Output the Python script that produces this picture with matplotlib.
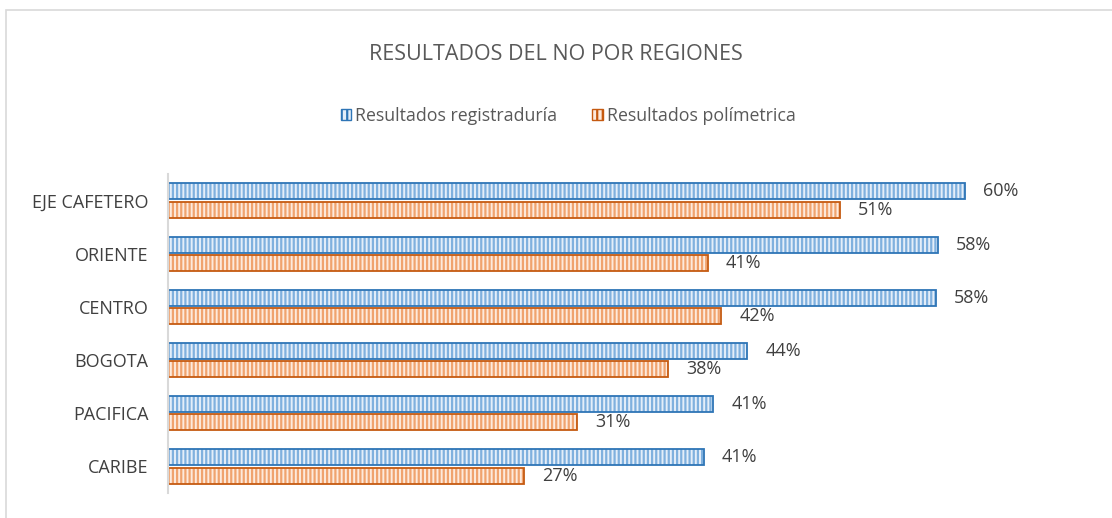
import matplotlib.pyplot as plt
import numpy as np
from matplotlib.patches import Rectangle

plt.rcParams.update({'font.family': ['Open Sans', 'DejaVu Sans'], 'hatch.linewidth': 1.6})

# datos (de abajo hacia arriba)
regiones = ['CARIBE', 'PACIFICA', 'BOGOTA', 'CENTRO', 'ORIENTE', 'EJE CAFETERO']
registraduria = [40.6, 41.3, 43.9, 58.2, 58.3, 60.4]
polimetrica = [27.0, 31.0, 37.9, 41.9, 40.9, 50.9]

W, H = 1112, 518
fig = plt.figure(figsize=(W / 100, H / 100), dpi=100)

# marco gris del gráfico (sale por la derecha y abajo)
fig.patches.append(Rectangle((6 / W, -0.05), 1.2, 1 - 10 / H + 0.05, transform=fig.transFigure,
                             fill=False, edgecolor='#d9d9d9', linewidth=1.2))

ax = fig.add_axes([168 / W, 1 - 493 / H, (1092 - 168) / W, (493 - 174) / H])

y = np.arange(len(regiones))
h = 0.30
off = 0.173

azul_borde, azul_raya, azul_fondo = '#2e75b6', '#7fb0de', '#e4eef9'
nar_borde, nar_raya, nar_fondo = '#c55a11', '#f0a36e', '#fdeadd'

# relleno con rayas verticales
ax.barh(y + off, registraduria, height=h, color=azul_fondo, edgecolor=azul_raya, hatch='||||', linewidth=0)
ax.barh(y - off, polimetrica, height=h, color=nar_fondo, edgecolor=nar_raya, hatch='||||', linewidth=0)
# contorno
ax.barh(y + off, registraduria, height=h, fill=False, edgecolor=azul_borde, linewidth=1.3)
ax.barh(y - off, polimetrica, height=h, fill=False, edgecolor=nar_borde, linewidth=1.3)

for i in range(len(regiones)):
    ax.annotate(f"{registraduria[i]:.0f}%", (registraduria[i], y[i] + off), xytext=(13, 0),
                textcoords='offset points', va='center', ha='left', fontsize=13, color='#404040')
    ax.annotate(f"{polimetrica[i]:.0f}%", (polimetrica[i], y[i] - off), xytext=(13, 0),
                textcoords='offset points', va='center', ha='left', fontsize=13, color='#404040')

ax.set_xlim(0, 70)
ax.set_ylim(-0.5, len(regiones) - 0.5)
ax.set_yticks(y)
ax.set_yticklabels(regiones, fontsize=13, color='#404040')
ax.tick_params(axis='y', length=0, pad=14)
ax.set_xticks([])
for s in ['top', 'right', 'bottom']:
    ax.spines[s].set_visible(False)
ax.spines['left'].set_color('#d9d9d9')
ax.spines['left'].set_linewidth(1.5)

fig.text(0.5, 1 - 55 / H, 'RESULTADOS DEL NO POR REGIONES', ha='center', va='center',
         fontsize=15.5, color='#595959')

# leyenda
hb = Rectangle((0, 0), 1, 1, facecolor=azul_fondo, edgecolor=azul_borde, hatch='|||', linewidth=1)
hn = Rectangle((0, 0), 1, 1, facecolor=nar_fondo, edgecolor=nar_borde, hatch='|||', linewidth=1)
fig.legend([hb, hn], ['Resultados registraduría', 'Resultados polímetrica'], loc='center',
           bbox_to_anchor=(568 / W, 1 - 116 / H), ncol=2, frameon=False, fontsize=12.8,
           handlelength=0.6, handleheight=0.6, handletextpad=0.2, columnspacing=2.0,
           labelcolor='#595959')

fig.savefig('out.png', dpi=100)
